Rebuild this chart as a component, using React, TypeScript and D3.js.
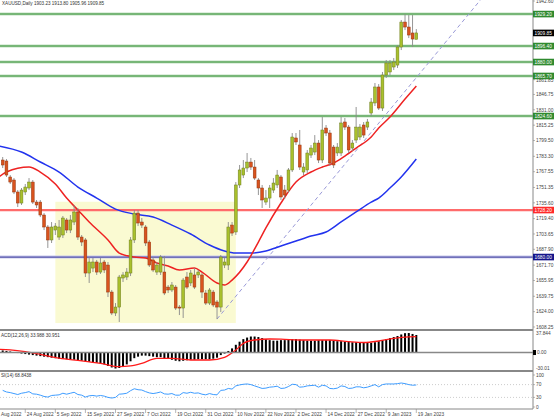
import React from "react";
import * as d3 from "d3";

// ---------- DATA ----------
// Daily XAUUSD candles [open, high, low, close]
const ohlc: [number, number, number, number][] = [
  [1779.5, 1782.6, 1771.3, 1774.4], [1778.5, 1780.5, 1762.1, 1764.1], [1762.1, 1764.1, 1754.9, 1756.9],
  [1759.0, 1761.0, 1744.6, 1746.7], [1746.7, 1748.7, 1731.3, 1735.4], [1735.4, 1750.8, 1733.4, 1748.7],
  [1746.7, 1754.9, 1743.6, 1751.8], [1750.8, 1761.0, 1748.7, 1756.9], [1756.9, 1759.0, 1734.4, 1736.4],
  [1736.4, 1738.5, 1730.3, 1733.4], [1736.4, 1738.5, 1721.0, 1723.1], [1723.1, 1725.1, 1707.7, 1710.8],
  [1710.8, 1712.8, 1689.3, 1697.5], [1697.5, 1715.9, 1694.4, 1710.8], [1707.7, 1714.9, 1702.6, 1711.8],
  [1700.5, 1718.0, 1697.5, 1710.8], [1702.6, 1722.1, 1699.5, 1720.0], [1718.0, 1720.0, 1704.6, 1707.7],
  [1707.7, 1723.1, 1704.6, 1718.0], [1715.9, 1733.4, 1712.8, 1726.2], [1726.2, 1730.3, 1697.5, 1700.5],
  [1700.5, 1702.6, 1691.3, 1695.4], [1697.5, 1699.5, 1659.5, 1663.6], [1663.6, 1680.0, 1653.4, 1674.9],
  [1668.7, 1679.0, 1664.6, 1674.9], [1674.9, 1677.0, 1661.6, 1664.6], [1664.6, 1679.0, 1662.6, 1673.9],
  [1674.9, 1677.0, 1663.6, 1666.7], [1671.8, 1674.9, 1639.0, 1644.1], [1644.1, 1646.2, 1620.5, 1622.6],
  [1622.6, 1632.8, 1619.5, 1628.7], [1628.7, 1661.6, 1613.4, 1659.5], [1658.5, 1664.6, 1654.4, 1661.6],
  [1659.5, 1668.7, 1656.4, 1664.6], [1663.6, 1700.5, 1660.5, 1697.5], [1697.5, 1728.2, 1694.4, 1725.1],
  [1725.1, 1728.2, 1711.8, 1714.9], [1715.9, 1720.0, 1709.8, 1712.8], [1710.8, 1712.8, 1691.3, 1694.4],
  [1695.4, 1697.5, 1669.8, 1671.8], [1677.0, 1680.0, 1664.6, 1666.7], [1664.6, 1674.9, 1661.6, 1671.8],
  [1664.6, 1682.1, 1661.6, 1680.0], [1664.6, 1681.1, 1641.0, 1643.1], [1649.2, 1651.3, 1643.1, 1646.2],
  [1646.2, 1654.4, 1644.1, 1651.3], [1649.2, 1651.3, 1625.7, 1627.7], [1628.7, 1630.8, 1620.5, 1627.7],
  [1627.7, 1658.5, 1617.5, 1656.4], [1659.5, 1664.6, 1647.2, 1649.2], [1653.4, 1666.7, 1650.3, 1663.6],
  [1661.6, 1668.7, 1647.2, 1649.2], [1661.6, 1666.7, 1658.5, 1664.6], [1661.6, 1663.6, 1638.0, 1644.1],
  [1643.1, 1646.2, 1630.8, 1632.8], [1632.8, 1648.2, 1630.8, 1646.2], [1644.1, 1646.2, 1628.7, 1630.8],
  [1633.9, 1635.9, 1616.4, 1628.7], [1628.7, 1682.1, 1623.6, 1680.0], [1671.8, 1679.0, 1668.7, 1674.9],
  [1671.8, 1715.9, 1666.7, 1710.8], [1712.8, 1715.9, 1701.6, 1704.6], [1705.7, 1756.9, 1702.6, 1753.9],
  [1753.9, 1774.4, 1750.8, 1769.3], [1764.1, 1779.5, 1761.0, 1771.3], [1771.3, 1786.7, 1767.2, 1777.4],
  [1777.4, 1781.6, 1769.3, 1772.3], [1772.3, 1779.5, 1759.0, 1761.0], [1759.0, 1761.0, 1743.6, 1750.8],
  [1750.8, 1753.9, 1730.3, 1738.5], [1736.4, 1748.7, 1733.4, 1740.5], [1740.5, 1753.9, 1730.3, 1750.8],
  [1748.7, 1761.0, 1745.7, 1755.9], [1753.9, 1769.3, 1750.8, 1764.1], [1762.1, 1764.1, 1738.5, 1741.6],
  [1748.7, 1753.9, 1739.5, 1743.6], [1748.7, 1771.3, 1745.7, 1769.3], [1769.3, 1807.2, 1767.2, 1803.1],
  [1802.1, 1807.2, 1794.9, 1798.0], [1794.9, 1810.3, 1769.3, 1772.3], [1767.2, 1776.4, 1764.1, 1772.3],
  [1769.3, 1789.8, 1766.2, 1786.7], [1784.6, 1794.9, 1781.6, 1791.8], [1787.7, 1805.1, 1784.6, 1796.9],
  [1796.9, 1800.0, 1776.4, 1779.5], [1779.5, 1823.6, 1776.4, 1810.3], [1812.3, 1815.4, 1804.1, 1807.2],
  [1807.2, 1810.3, 1773.4, 1776.4], [1792.8, 1794.9, 1771.3, 1774.4], [1786.7, 1796.9, 1783.6, 1792.8],
  [1786.7, 1823.6, 1783.6, 1817.5], [1818.5, 1822.6, 1810.3, 1813.3], [1813.3, 1815.4, 1786.7, 1789.8],
  [1791.8, 1800.0, 1788.7, 1796.9], [1800.0, 1833.9, 1796.9, 1813.3], [1803.1, 1816.4, 1800.0, 1813.3],
  [1815.4, 1818.5, 1802.1, 1805.1], [1813.3, 1821.6, 1810.3, 1818.5], [1827.7, 1843.1, 1824.6, 1839.0],
  [1838.0, 1858.5, 1834.9, 1854.4], [1854.4, 1857.4, 1830.8, 1832.8], [1832.8, 1869.8, 1829.8, 1866.7],
  [1866.7, 1882.1, 1863.6, 1879.0], [1869.8, 1882.1, 1866.7, 1879.0], [1874.9, 1884.1, 1871.8, 1880.0],
  [1876.9, 1897.4, 1873.9, 1895.4], [1895.4, 1923.1, 1892.3, 1921.0], [1921.0, 1929.2, 1912.8, 1915.9],
  [1915.9, 1928.2, 1904.6, 1907.7], [1909.8, 1928.2, 1895.4, 1903.6], [1903.23, 1913.8, 1905.96, 1909.85],
];

// Moving averages: [bar index, price]
const maFast: [number, number][] = [
  [-1, 1762.1], [1, 1767.2], [7, 1772.3], [10, 1767.2], [14, 1754.9], [17, 1740.5], [20, 1728.2],
  [23, 1715.9], [28, 1697.5], [31, 1684.1], [35, 1680.0], [38, 1679.0], [41, 1673.9], [44, 1670.8],
  [47, 1666.7], [51, 1668.7], [53, 1664.6], [57, 1653.4], [59, 1651.3], [61, 1656.4], [65, 1674.9],
  [68, 1695.4], [70, 1709.8], [74, 1735.4], [78, 1756.9], [82, 1767.2], [85, 1772.3], [88, 1776.4],
  [91, 1783.6], [94, 1791.8], [98, 1803.1], [100, 1812.3], [103, 1823.6], [107, 1842.0], [110, 1855.4],
];
const maSlow: [number, number][] = [
  [-1, 1793.9], [5, 1787.7], [10, 1777.5], [15, 1767.2], [20, 1751.8], [25, 1740.5], [30, 1729.2],
  [35, 1724.1], [40, 1721.0], [45, 1712.8], [50, 1703.6], [55, 1692.3], [59, 1686.2], [62, 1684.1],
  [66, 1684.1], [70, 1686.2], [74, 1691.3], [78, 1696.4], [82, 1701.6], [86, 1705.7], [90, 1716.0],
  [94, 1726.2], [98, 1736.4], [100, 1740.5], [103, 1750.8], [106, 1762.1], [110, 1780.5],
];

// Horizontal levels
const greenLevels = [1929.2, 1896.4, 1880.0, 1865.7, 1824.6];
const redLevel = 1728.2;
const blueLevel = 1680.0;
const lastPrice = 1909.85;

// Highlighted range box [startBar, endBar, topPrice, bottomPrice]
const boxRange: [number, number, number, number] = [14, 62, 1736.7, 1612.3];
// Dashed trend line anchors [bar, price]
const trendA: [number, number] = [57, 1616.4];
const trendB: [number, number] = [110, 1864.0];

// MACD histogram (main) per bar and signal line [bar, value]
const macdMain = [
  4, 3, 2, 1, -1, -2, -3, -4, -5, -6,
  -7, -8, -9, -10, -11, -12, -12, -13, -13, -14,
  -15, -16, -17, -18, -19, -20, -21, -23, -26, -29,
  -31, -30, -27, -23, -17, -11, -8, -6, -6, -7,
  -8, -9, -9, -11, -12, -14, -16, -17, -16, -15,
  -14, -14, -13, -13, -13, -13, -12, -10, -5, -2,
  3, 8, 15, 21, 26, 29, 31, 31, 30, 28,
  26, 24, 23, 23, 24, 24, 25, 26, 26, 25,
  24, 23, 23, 23, 24, 24, 24, 24, 23, 22,
  22, 21, 21, 20, 20, 20, 19, 19, 19, 20,
  22, 24, 26, 28, 30, 32, 35, 37.5, 37.8, 36, 34,
];
const macdSignal: [number, number][] = [
  [-1, 6], [2, 5], [6, 1.6], [10, -3.5], [15, -11], [21, -16], [26, -21], [31, -27.5], [34, -26],
  [37, -21], [41, -11.3], [45, -11.3], [50, -14.5], [55, -14.5], [59, -9.3], [62, 4.8], [64, 17.8],
  [67, 24.3], [71, 26.2], [74, 26], [79, 24.3], [87, 24.3], [92, 21], [96, 19.4], [100, 22.3],
  [104, 27.5], [108, 30.5], [110, 31],
];

// RSI(14) per bar
const rsi = [
  52, 47, 45, 42, 39, 43, 45, 48, 41, 40,
  37, 33, 31, 36, 37, 38, 43, 40, 43, 46,
  39, 37, 31, 35, 36, 34, 36, 34, 30, 28,
  30, 40, 41, 43, 51, 57, 54, 53, 48, 44,
  42, 44, 47, 41, 40, 42, 37, 37, 45, 43,
  46, 43, 44, 40, 38, 42, 39, 38, 52, 53,
  58, 56, 66, 69, 71, 72, 70, 66, 62, 58,
  59, 62, 63, 65, 58, 59, 64, 71, 70, 62,
  63, 66, 67, 68, 62, 68, 66, 58, 57, 59,
  66, 64, 58, 59, 63, 63, 60, 62, 66, 70,
  63, 70, 72, 72, 72, 73, 75, 73, 70, 68, 68.84,
];

// Axis tick labels
const priceTicks = [1942.60, 1861.85, 1846.75, 1831.00, 1815.25, 1799.50, 1783.30, 1767.55,
  1751.35, 1735.60, 1719.40, 1703.65, 1687.90, 1671.70, 1655.95, 1639.75, 1624.00, 1608.25];
const dateTicks: [number, string][] = [
  [-2, "Aug 2022"], [6, "24 Aug 2022"], [14, "5 Sep 2022"], [22, "15 Sep 2022"], [30, "27 Sep 2022"],
  [38, "7 Oct 2022"], [46, "19 Oct 2022"], [54, "31 Oct 2022"], [62, "10 Nov 2022"], [70, "22 Nov 2022"],
  [78, "2 Dec 2022"], [86, "14 Dec 2022"], [94, "27 Dec 2022"], [102, "9 Jan 2023"], [110, "19 Jan 2023"],
];
const titleText = "XAUUSD,Daily  1903.23 1913.80 1905.96 1909.85";
const macdText = "ACD(12,26,9) 33.988 30.951";
const rsiText = "SI(14) 68.8438";

// ---------- LAYOUT ----------
const W = 554;
const H = 420;
const AX = 533;
const FONT = "'Liberation Sans', Arial, sans-serif";

export default function App() {
  const n = ohlc.length;
  const x = d3.scaleLinear().domain([0, n - 1]).range([2.7, 416.3]);
  const y = d3.scaleLinear().domain([1608.25, 1942.6]).range([327, 1]);
  const ym = d3.scaleLinear().domain([-30.01, 37.844]).range([368, 333]);
  const yr = d3.scaleLinear().domain([0, 100]).range([407, 375]);
  const f2 = d3.format(".2f");

  const maLine = d3
    .line<[number, number]>()
    .x((d) => x(d[0]))
    .y((d) => y(d[1]))
    .curve(d3.curveMonotoneX);
  const sigLine = d3
    .line<[number, number]>()
    .x((d) => x(d[0]))
    .y((d) => ym(d[1]))
    .curve(d3.curveMonotoneX);
  const rsiLine = d3
    .line<number>()
    .x((_, i) => x(i))
    .y((d) => yr(d));

  // trend ray extended to top of main panel
  const tx0 = x(trendA[0]), ty0 = y(trendA[1]);
  const tx1 = x(trendB[0]), ty1 = y(trendB[1]);
  const slope = (ty1 - ty0) / (tx1 - tx0);
  const txEnd = tx0 + (0 - ty0) / slope;

  const label = (yy: number, text: string, bg: string) => (
    <g key={text + bg}>
      <rect x={AX} y={yy - 3.3} width={21} height={6.6} fill={bg} />
      <text x={AX + 1.5} y={yy + 1.8} fontSize={4.8} fill="#fff" fontFamily={FONT}>
        {text}
      </text>
    </g>
  );

  return (
    <svg
      width={W}
      height={H}
      style={{ position: "fixed", left: 0, top: 0, background: "#fff" }}
    >
      <defs>
        <clipPath id="mainClip">
          <rect x={0} y={0} width={AX} height={329} />
        </clipPath>
        <clipPath id="macdClip">
          <rect x={0} y={331} width={AX} height={39} />
        </clipPath>
      </defs>
      <rect x={0} y={0} width={W} height={H} fill="#fff" />

      {/* main panel */}
      <g clipPath="url(#mainClip)">
        <rect
          x={x(boxRange[0])}
          y={y(boxRange[2])}
          width={x(boxRange[1]) - x(boxRange[0])}
          height={y(boxRange[3]) - y(boxRange[2])}
          fill="#fafad2"
        />
        {greenLevels.map((v) => (
          <g key={v}>
            <line x1={0} x2={AX} y1={y(v)} y2={y(v)} stroke="#bfe0bf" strokeWidth={3} />
            <line x1={0} x2={AX} y1={y(v)} y2={y(v)} stroke="#5fa85f" strokeWidth={1.5} />
          </g>
        ))}
        <line x1={0} x2={AX} y1={y(redLevel)} y2={y(redLevel)} stroke="#ff6b6b" strokeWidth={2.2} />
        <line x1={0} x2={AX} y1={y(blueLevel)} y2={y(blueLevel)} stroke="#c8c8ec" strokeWidth={3} />
        <line x1={0} x2={AX} y1={y(blueLevel)} y2={y(blueLevel)} stroke="#5555aa" strokeWidth={1.3} />
        <line
          x1={tx0}
          y1={ty0}
          x2={txEnd}
          y2={0}
          stroke="#9a9ad8"
          strokeWidth={1}
          strokeDasharray="4,3"
        />
        <path d={maLine(maSlow) || ""} fill="none" stroke="#2233ee" strokeWidth={1.5} />
        <path d={maLine(maFast) || ""} fill="none" stroke="#ee2222" strokeWidth={1.5} />
        {ohlc.map((d, i) => {
          const [o, h, l, c] = d;
          const cx = x(i);
          const up = c >= o;
          const top = y(Math.max(o, c));
          const bot = y(Math.min(o, c));
          return (
            <g key={i}>
              <line x1={cx} x2={cx} y1={y(h)} y2={y(l)} stroke="#8a8a8a" strokeWidth={0.9} />
              <rect
                x={cx - 1.4}
                y={top}
                width={2.8}
                height={Math.max(1, bot - top)}
                fill={up ? "#a9c02c" : "#d9531e"}
                stroke={up ? "#6d7d1c" : "#93360f"}
                strokeWidth={0.5}
              />
            </g>
          );
        })}
      </g>

      {/* title */}
      <text x={2} y={5} fontSize={4.6} fill="#333" fontFamily={FONT}>
        {titleText}
      </text>

      {/* MACD panel */}
      <g clipPath="url(#macdClip)">
        {macdMain.map((v, i) => (
          <rect
            key={i}
            x={x(i) - 1}
            y={Math.min(ym(v), ym(0))}
            width={2}
            height={Math.abs(ym(v) - ym(0))}
            fill="#000"
          />
        ))}
        <path d={sigLine(macdSignal) || ""} fill="none" stroke="#ff1a1a" strokeWidth={1.3} />
      </g>
      <line x1={0} x2={AX} y1={ym(0)} y2={ym(0)} stroke="#888" strokeWidth={1.5} />
      <text x={1} y={336.5} fontSize={4.6} fill="#333" fontFamily={FONT}>
        {macdText}
      </text>

      {/* RSI panel */}
      {[70, 30].map((v) => (
        <line
          key={v}
          x1={0}
          x2={AX}
          y1={yr(v)}
          y2={yr(v)}
          stroke="#aaa"
          strokeWidth={0.6}
          strokeDasharray="1,2"
        />
      ))}
      <path d={rsiLine(rsi) || ""} fill="none" stroke="#3d9cff" strokeWidth={1} />
      <text x={1} y={377} fontSize={4.6} fill="#333" fontFamily={FONT}>
        {rsiText}
      </text>

      {/* panel separators & axes */}
      <line x1={0} x2={AX} y1={330} y2={330} stroke="#888" strokeWidth={2} />
      <line x1={0} x2={AX} y1={371} y2={371} stroke="#888" strokeWidth={2} />
      <line x1={0} x2={AX} y1={409} y2={409} stroke="#888" strokeWidth={1} />
      <line x1={AX} x2={AX} y1={0} y2={409} stroke="#888" strokeWidth={1} />

      {/* price axis */}
      {priceTicks.map((v) => (
        <g key={v}>
          <line x1={AX} x2={AX + 2} y1={y(v)} y2={y(v)} stroke="#888" strokeWidth={0.6} />
          <text x={AX + 3} y={y(v) + 1.8} fontSize={4.8} fill="#444" fontFamily={FONT}>
            {f2(v)}
          </text>
        </g>
      ))}
      {greenLevels.map((v) => label(y(v), f2(v), "#2f8a2f"))}
      {label(y(lastPrice), f2(lastPrice), "#000")}
      {label(y(redLevel), f2(redLevel), "#ff2a2a")}
      {label(y(blueLevel), f2(blueLevel), "#14148a")}

      {/* MACD axis */}
      <text x={AX + 3} y={ym(37.844) + 1.8} fontSize={4.8} fill="#444" fontFamily={FONT}>37.844</text>
      <rect x={AX} y={ym(0) - 2.5} width={3} height={5} fill="#000" />
      <text x={AX + 4} y={ym(0) + 1.8} fontSize={4.8} fill="#444" fontFamily={FONT}>0.00</text>
      <text x={AX + 3} y={ym(-30.01) + 1.8} fontSize={4.8} fill="#444" fontFamily={FONT}>-30.01</text>

      {/* RSI axis */}
      {[100, 70, 30, 0].map((v) => (
        <g key={v}>
          <line x1={AX} x2={AX + 2} y1={yr(v)} y2={yr(v)} stroke="#888" strokeWidth={0.6} />
          <text x={AX + 3} y={yr(v) + 1.8} fontSize={4.8} fill="#444" fontFamily={FONT}>
            {v}
          </text>
        </g>
      ))}

      {/* date axis */}
      {dateTicks.map(([i, t]) => (
        <g key={t}>
          <line x1={x(i)} x2={x(i)} y1={409} y2={413} stroke="#888" strokeWidth={0.6} />
          <text
            x={Math.max(1, x(i) + 1.5)}
            y={415.5}
            fontSize={4.8}
            fill="#444"
            fontFamily={FONT}
          >
            {t}
          </text>
        </g>
      ))}
    </svg>
  );
}
